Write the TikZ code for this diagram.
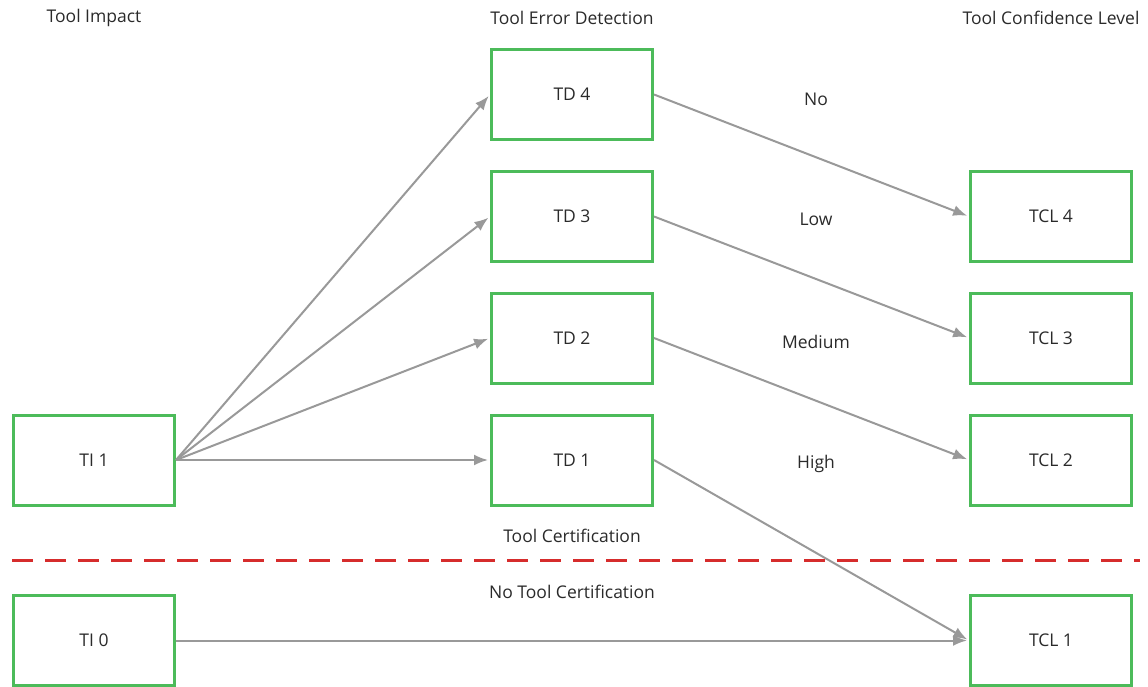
\documentclass[tikz,border=0pt]{standalone}
\usepackage{fontspec}
\setmainfont{Open Sans}
\usetikzlibrary{arrows.meta}
\definecolor{boxgreen}{HTML}{4CBB5A}
\definecolor{arrowgray}{HTML}{999999}
\definecolor{txt}{HTML}{2A2A2A}
\definecolor{dashred}{HTML}{D62C2C}
\begin{document}
\begin{tikzpicture}[x=1pt,y=-1pt,
  box/.style={draw=boxgreen,line width=3pt,minimum width=161pt,minimum height=90pt,inner sep=0pt,text=txt,font=\fontsize{17.5}{20}\selectfont},
  lbl/.style={text=txt,inner sep=0pt,font=\fontsize{17.5}{20}\selectfont},
  conn/.style={draw=arrowgray,line width=2pt,-{Latex[length=14pt,width=11pt]},shorten >=2pt}
]
\useasboundingbox (0,0) rectangle (1148,687);
% headers
\node[lbl] (hti) at (94,18) {Tool Impact};
\node[lbl] (htd) at (572,18) {Tool Error Detection};
\node[lbl] (htcl) at (1051,18) {Tool Confidence Level};
% boxes
\node[box] (ti1) at (94,460) {TI 1};
\node[box] (ti0) at (94,640.5) {TI 0};
\node[box] (td4) at (572,94.5) {TD 4};
\node[box] (td3) at (572,216.5) {TD 3};
\node[box] (td2) at (572,338) {TD 2};
\node[box] (td1) at (572,460) {TD 1};
\node[box] (tcl4) at (1051,216.5) {TCL 4};
\node[box] (tcl3) at (1051,338) {TCL 3};
\node[box] (tcl2) at (1051,460) {TCL 2};
\node[box] (tcl1) at (1051,640.5) {TCL 1};
% labels
\node[lbl] (lno) at (816,99) {No};
\node[lbl] (llow) at (816,219) {Low};
\node[lbl] (lmed) at (816,342) {Medium};
\node[lbl] (lhigh) at (816,464) {High};
\node[lbl] (lcert) at (572,536) {Tool Certification};
\node[lbl] (lnocert) at (572,592) {No Tool Certification};
% dashed line
\coordinate (dl) at (12,560);
\coordinate (dr) at (1140,560);
\draw[dashred,line width=3pt,dash pattern=on 21pt off 12pt] (dl) -- (dr);
% connectors
\foreach \t in {td4,td3,td2,td1}
  \draw[conn] (ti1.east) -- (\t.west);
\draw[conn] (td4.east) -- (tcl4.west);
\draw[conn] (td3.east) -- (tcl3.west);
\draw[conn] (td2.east) -- (tcl2.west);
\draw[conn] (td1.east) -- (tcl1.west);
\draw[conn] (ti0.east) -- (tcl1.west);
\end{tikzpicture}
\end{document}
